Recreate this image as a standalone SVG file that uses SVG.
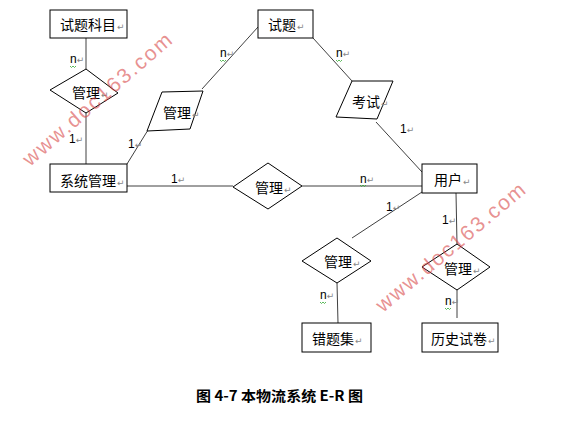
<svg xmlns="http://www.w3.org/2000/svg" width="582" height="429" viewBox="0 0 582 429">
<style>
.box{fill:#fff;stroke:#000;stroke-width:1}
.rel{fill:#fff;stroke:#000;stroke-width:1}
.ln{stroke:#404040;stroke-width:1;fill:none}
.t{font-family:"Noto Sans CJK SC","Liberation Sans",sans-serif;font-size:14px;fill:#000}
.c{font-family:"Liberation Sans","DejaVu Sans",sans-serif;font-size:12px;fill:#000}
.p{font-family:"DejaVu Sans",sans-serif;font-size:9px;fill:#888}
.wm{font-family:"Liberation Sans",sans-serif;font-size:21px;fill:#d84848;fill-opacity:0.6}
.sq{stroke:#3a3;stroke-width:0.8;fill:none}
.cap{font-family:"Noto Sans CJK SC",sans-serif;font-size:14px;font-weight:bold;fill:#000}
</style>
<rect width="582" height="429" fill="#fff"/>
<g id="connectors">
<line class="ln" x1="86" y1="38" x2="86" y2="69"/>
<line class="ln" x1="86" y1="113" x2="86" y2="164"/>
<line class="ln" x1="127" y1="164" x2="148" y2="130"/>
<line class="ln" x1="202" y1="89" x2="258" y2="27"/>
<line class="ln" x1="313" y1="38" x2="352" y2="81"/>
<line class="ln" x1="376" y1="122" x2="422" y2="172"/>
<line class="ln" x1="127" y1="186" x2="233" y2="186"/>
<line class="ln" x1="302" y1="186" x2="422" y2="186"/>
<line class="ln" x1="422" y1="192" x2="352" y2="238"/>
<line class="ln" x1="337" y1="283" x2="338" y2="323"/>
<line class="ln" x1="456" y1="193" x2="457" y2="244"/>
<line class="ln" x1="457" y1="290" x2="457" y2="318"/>
</g>
<g id="n_subject"><rect class="box" x="50" y="10" width="77" height="28"/><text class="t" x="60" y="30">试题科目<tspan class="p" dx="1">↵</tspan></text></g>
<g id="n_question"><rect class="box" x="258" y="10" width="55" height="28"/><text class="t" x="268" y="30">试题<tspan class="p" dx="1">↵</tspan></text></g>
<g id="r_manage1"><polygon class="rel" points="86,69 118,93 86,113 50,90"/><text class="t" x="72" y="98">管理<tspan class="p" dx="1">↵</tspan></text></g>
<g id="r_manage2"><polygon class="rel" points="162,92 203,91 190,129 147,131"/><text class="t" x="163" y="118">管理<tspan class="p" dx="1">↵</tspan></text></g>
<g id="r_exam"><polygon class="rel" points="352,81 393,81 377,119 336,117"/><text class="t" x="352" y="107">考试<tspan class="p" dx="1">↵</tspan></text></g>
<g id="n_system"><rect class="box" x="50" y="164" width="77" height="28"/><text class="t" x="60" y="186">系统管理<tspan class="p" dx="1">↵</tspan></text></g>
<g id="r_manage3"><polygon class="rel" points="268,163 302,186 268,209 233,187"/><text class="t" x="255" y="193">管理<tspan class="p" dx="1">↵</tspan></text></g>
<g id="n_user"><rect class="box" x="422" y="164" width="55" height="29"/><text class="t" x="434" y="185">用户<tspan class="p" dx="1">↵</tspan></text></g>
<g id="r_manage4"><polygon class="rel" points="337,238 371,261 337,283 302,261"/><text class="t" x="324" y="267">管理<tspan class="p" dx="1">↵</tspan></text></g>
<g id="r_manage5"><polygon class="rel" points="457,244 490,267 457,290 422,267"/><text class="t" x="444" y="274">管理<tspan class="p" dx="1">↵</tspan></text></g>
<g id="n_wrong"><rect class="box" x="302" y="323" width="69" height="29"/><text class="t" x="312" y="344">错题集<tspan class="p" dx="1">↵</tspan></text></g>
<g id="n_history"><rect class="box" x="422" y="323" width="76" height="29"/><text class="t" x="431" y="344">历史试卷<tspan class="p" dx="1">↵</tspan></text></g>
<g id="labels">
<text class="c" x="70" y="63">n<tspan class="p">↵</tspan></text>
<path class="sq" d="M70,66 l1.5,1.5 l1.5,-1.5 l1.5,1.5 l1.5,-1.5"/>
<text class="c" x="69" y="143">1<tspan class="p">↵</tspan></text>
<text class="c" x="128" y="148">1<tspan class="p">↵</tspan></text>
<text class="c" x="220" y="57">n<tspan class="p">↵</tspan></text>
<path class="sq" d="M220,60 l1.5,1.5 l1.5,-1.5 l1.5,1.5 l1.5,-1.5"/>
<text class="c" x="336" y="57">n<tspan class="p">↵</tspan></text>
<path class="sq" d="M336,60 l1.5,1.5 l1.5,-1.5 l1.5,1.5 l1.5,-1.5"/>
<text class="c" x="400" y="133">1<tspan class="p">↵</tspan></text>
<text class="c" x="171" y="183">1<tspan class="p">↵</tspan></text>
<text class="c" x="360" y="183">n<tspan class="p">↵</tspan></text>
<path class="sq" d="M360,185 l1.5,1.5 l1.5,-1.5 l1.5,1.5 l1.5,-1.5"/>
<text class="c" x="386" y="211">1<tspan class="p">↵</tspan></text>
<text class="c" x="442" y="224">1<tspan class="p">↵</tspan></text>
<text class="c" x="320" y="299">n<tspan class="p">↵</tspan></text>
<path class="sq" d="M320,302 l1.5,1.5 l1.5,-1.5 l1.5,1.5 l1.5,-1.5"/>
<text class="c" x="445" y="305">n<tspan class="p">↵</tspan></text>
<path class="sq" d="M445,308 l1.5,1.5 l1.5,-1.5 l1.5,1.5 l1.5,-1.5"/>
</g>
<text class="cap" x="196" y="401" textLength="167" lengthAdjust="spacingAndGlyphs">图 4-7 本物流系统 E-R 图</text>
<g id="wm1"><text class="wm" transform="translate(30,167) rotate(-41)" textLength="190" lengthAdjust="spacing">www.doc163.com</text></g>
<g id="wm2"><text class="wm" transform="translate(383,313) rotate(-40)" textLength="188" lengthAdjust="spacing">www.doc163.com</text></g>
</svg>
